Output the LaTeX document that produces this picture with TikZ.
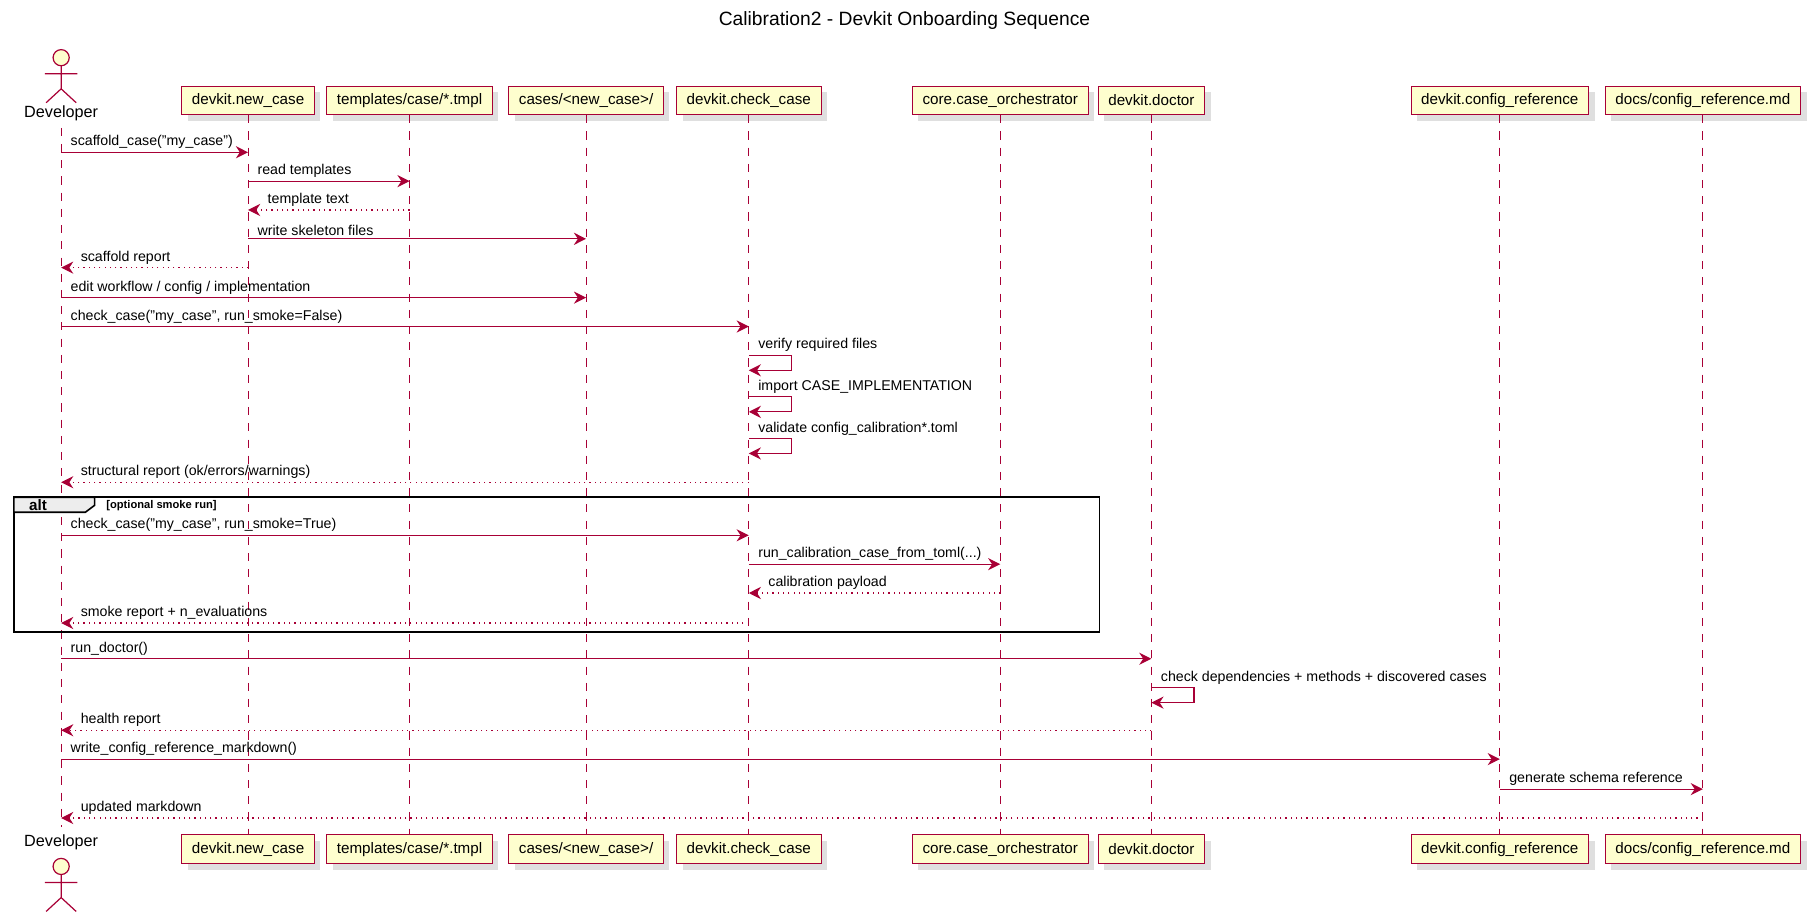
\documentclass[tikz,border=0pt]{standalone}
\usepackage{fontspec}
\setmainfont{Liberation Sans}
\usetikzlibrary{shadows,arrows.meta}
\definecolor{umlred}{HTML}{A80036}
\definecolor{umlfill}{HTML}{FEFECE}
\tikzset{
  part/.style={draw=umlred,fill=umlfill,rectangle,minimum height=0.5cm,inner xsep=5pt,font=\fontsize{7.5}{9}\selectfont,drop shadow={shadow xshift=3pt,shadow yshift=-3pt,fill=black!25}},
  life/.style={umlred,thin,dash pattern=on 4pt off 4pt},
  msg/.style={umlred,semithick,-{Stealth[length=6pt,width=6pt]}},
  ret/.style={msg,dotted},
  lbl/.style={font=\fontsize{7}{8}\selectfont,anchor=south west,inner sep=1.5pt}
}
% message between two lifelines at height y
\newcommand{\callmsg}[5]{\draw[#5] (#1 |- 0,-#3) -- (#2 |- 0,-#3);
  \path (#1 |- 0,-#3) -- (#2 |- 0,-#3) node[pos=0,lbl,xshift=3pt] {#4};}
\newcommand{\backmsg}[4]{\draw[ret] (#1 |- 0,-#3) -- (#2 |- 0,-#3);
  \path (#2 |- 0,-#3) node[lbl,xshift=8pt] {#4};}
\newcommand{\selfmsg}[3]{\draw[msg] (#1 |- 0,-#2) -- ++(37,0) -- ++(0,-13) -- ++(-37,0);
  \path (#1 |- 0,-#2) node[lbl,xshift=3pt] {#3};}
\newcommand{\actor}[2]{\begin{scope}[shift={(#1,#2)},umlred,semithick]
  \draw[fill=umlfill] (0,0) circle (7);
  \draw (0,-7) -- (0,-27) (-14,-14) -- (14,-14)
        (-13,-39) -- (0,-27) -- (13,-39);
\end{scope}}

\begin{document}
\begin{tikzpicture}[x=0.02cm,y=0.02cm]
\useasboundingbox (0,0) rectangle (1568,-800);

\node[font=\fontsize{9.5}{11}\selectfont] (title) at (784,-18) {Calibration2 - Devkit Onboarding Sequence};

% participants
\actor{53}{-50}
\node[font=\fontsize{8}{9}\selectfont] (dev) at (53,-98) {Developer};
\node[part] (nc) at (215,-87) {devkit.new\_case};
\node[part] (tp) at (355,-87) {templates/case/*.tmpl};
\node[part] (cs) at (508,-87) {cases/<new\_case>/};
\node[part] (cc) at (649,-87) {devkit.check\_case};
\node[part] (co) at (867,-87) {core.case\_orchestrator};
\node[part] (dd) at (998,-87) {devkit.doctor};
\node[part] (cr) at (1300,-87) {devkit.config\_reference};
\node[part] (dm) at (1476,-87) {docs/config\_reference.md};

\node[part] (nc2) at (215,-736) {devkit.new\_case};
\node[part] (tp2) at (355,-736) {templates/case/*.tmpl};
\node[part] (cs2) at (508,-736) {cases/<new\_case>/};
\node[part] (cc2) at (649,-736) {devkit.check\_case};
\node[part] (co2) at (867,-736) {core.case\_orchestrator};
\node[part] (dd2) at (998,-736) {devkit.doctor};
\node[part] (cr2) at (1300,-736) {devkit.config\_reference};
\node[part] (dm2) at (1476,-736) {docs/config\_reference.md};
\node[font=\fontsize{8}{9}\selectfont] (dev2) at (53,-730) {Developer};
\actor{53}{-751}

% lifelines
\draw[life] (dev) -- (dev2);
\foreach \p in {nc,tp,cs,cc,co,dd,cr,dm} \draw[life] (\p) -- (\p2);

% alt frame
\draw[thick] (12,-431) rectangle (953,-548);
\draw[thick,fill=black!7] (12,-431) -- (82,-431) -- (82,-438) -- (74,-444) -- (12,-444) -- cycle;
\node[font=\fontsize{7.5}{9}\selectfont\bfseries] (altk) at (33,-438) {alt};
\node[font=\fontsize{5.5}{7}\selectfont\bfseries,anchor=west] (altc) at (86,-438) {[optional smoke run]};

% messages
\callmsg{dev}{nc}{132}{scaffold\_case("my\_case")}{msg}
\callmsg{nc}{tp}{157}{read templates}{msg}
\backmsg{tp}{nc}{182}{template text}
\callmsg{nc}{cs}{207}{write skeleton files}{msg}
\backmsg{nc}{dev}{232}{scaffold report}
\callmsg{dev}{cs}{258}{edit workflow / config / implementation}{msg}
\callmsg{dev}{cc}{283}{check\_case("my\_case", run\_smoke=False)}{msg}
\selfmsg{cc}{308}{verify required files}
\selfmsg{cc}{344}{import CASE\_IMPLEMENTATION}
\selfmsg{cc}{380}{validate config\_calibration*.toml}
\backmsg{cc}{dev}{418}{structural report (ok/errors/warnings)}
\callmsg{dev}{cc}{464}{check\_case("my\_case", run\_smoke=True)}{msg}
\callmsg{cc}{co}{489}{run\_calibration\_case\_from\_toml(...)}{msg}
\backmsg{co}{cc}{514}{calibration payload}
\backmsg{cc}{dev}{540}{smoke report + n\_evaluations}
\callmsg{dev}{dd}{571}{run\_doctor()}{msg}
\selfmsg{dd}{596}{check dependencies + methods + discovered cases}
\backmsg{dd}{dev}{633}{health report}
\callmsg{dev}{cr}{658}{write\_config\_reference\_markdown()}{msg}
\callmsg{cr}{dm}{684}{generate schema reference}{msg}
\backmsg{dm}{dev}{709}{updated markdown}
\end{tikzpicture}
\end{document}
